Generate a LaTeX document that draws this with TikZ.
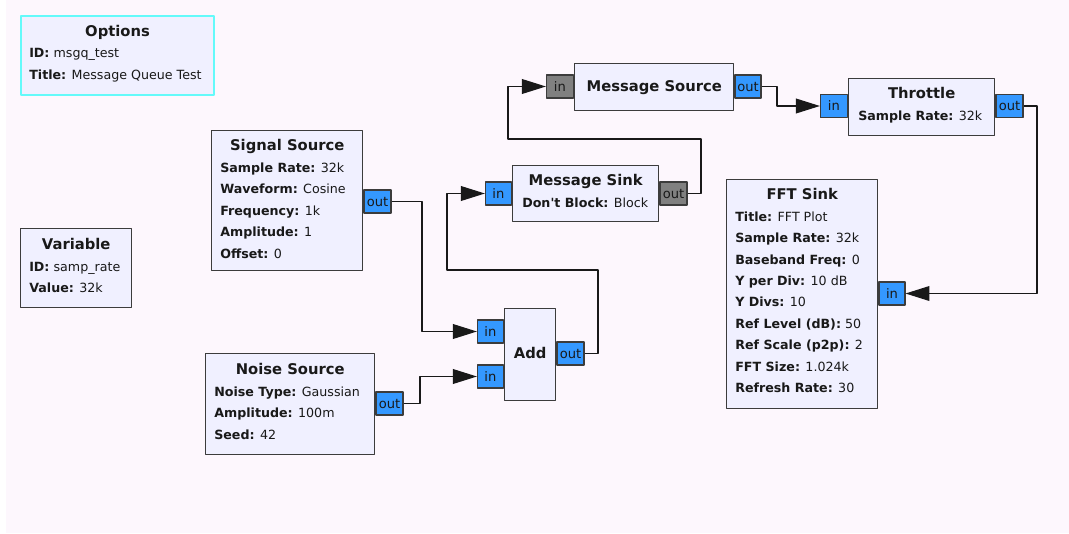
\documentclass[tikz,border=0pt]{standalone}
\usepackage{fontspec}
\setmainfont{DejaVu Sans}
\usetikzlibrary{arrows.meta}
\definecolor{canvas}{RGB}{253,247,253}
\definecolor{blkfill}{RGB}{240,240,255}
\definecolor{edge}{RGB}{60,60,60}
\definecolor{ink}{RGB}{25,25,25}
\definecolor{optcyan}{RGB}{100,250,250}
\definecolor{portblue}{RGB}{52,152,255}
\definecolor{msggray}{RGB}{128,128,128}
\begin{document}
\begin{tikzpicture}[x=0.025cm, y=-0.025cm, line join=round,
    >={Triangle[length=17pt, width=10.5pt]},
    blk/.style={draw=edge, fill=blkfill, line width=1pt, inner sep=0pt, anchor=north west},
    ttl/.style={font=\fontsize{10.5}{12}\selectfont\bfseries, text=ink, inner sep=0pt, anchor=mid},
    fld/.style={font=\fontsize{9}{11}\selectfont, text=ink, inner sep=0pt, anchor=mid west},
    port/.style={draw=edge, fill=portblue, line width=0.8pt, inner sep=0pt,
      minimum width=27*\pxu, minimum height=23*\pxu, font=\fontsize{9.3}{10}\selectfont, text=ink},
    msgport/.style={port, fill=msggray},
    wire/.style={draw=ink, line width=0.8pt}]
  \def\pxu{0.025cm}
  \useasboundingbox (0,0) rectangle (1069,533);
  \fill[canvas] (6,0) rectangle (1069,533);

  % options and variable
  \node[blk, draw=optcyan, line width=1.5pt, minimum width=193*\pxu, minimum height=79*\pxu] (opt) at (20,15) {};
  \node[ttl] (opt-t) at ([yshift=-17.5*\pxu]opt.north) {Options};
  \foreach \k/\v [count=\i] in {ID/msgq\_test, Title/Message Queue Test}
    \node[fld] (opt-f\i) at ([xshift=9*\pxu, yshift={-(17.5+21.5*\i)*\pxu}]opt.north west) {\textbf{\k:} \v};

  \node[blk, minimum width=111*\pxu, minimum height=79*\pxu] (var) at (20,228) {};
  \node[ttl] (var-t) at ([yshift=-18*\pxu]var.north) {Variable};
  \foreach \k/\v [count=\i] in {ID/samp\_rate, Value/32k}
    \node[fld] (var-f\i) at ([xshift=9*\pxu, yshift={-(18+21.5*\i)*\pxu}]var.north west) {\textbf{\k:} \v};

  % sources
  \node[blk, minimum width=151*\pxu, minimum height=140*\pxu] (sig) at (211,130) {};
  \node[ttl] (sig-t) at ([yshift=-17*\pxu]sig.north) {Signal Source};
  \foreach \k/\v [count=\i] in {Sample Rate/32k, Waveform/Cosine, Frequency/1k, Amplitude/1, Offset/0}
    \node[fld] (sig-f\i) at ([xshift=9*\pxu, yshift={-(17+21.5*\i)*\pxu}]sig.north west) {\textbf{\k:} \v};
  \node[port, anchor=west] (sig-out) at (sig.east |- 0,201.5) {out};

  \node[blk, minimum width=169*\pxu, minimum height=101*\pxu] (noise) at (205,353) {};
  \node[ttl] (noise-t) at ([yshift=-17.5*\pxu]noise.north) {Noise Source};
  \foreach \k/\v [count=\i] in {Noise Type/Gaussian, Amplitude/100m, Seed/42}
    \node[fld] (noise-f\i) at ([xshift=9*\pxu, yshift={-(18+21.5*\i)*\pxu}]noise.north west) {\textbf{\k:} \v};
  \node[port, anchor=west] (noise-out) at (noise.east |- 0,403.5) {out};

  % add
  \node[blk, minimum width=51*\pxu, minimum height=92*\pxu] (add) at (504,308) {};
  \node[ttl] (add-t) at (add.center) {Add};
  \node[port, anchor=east, minimum width=26*\pxu] (add-in1) at (add.west |- 0,331.5) {in};
  \node[port, anchor=east, minimum width=26*\pxu] (add-in2) at (add.west |- 0,376.5) {in};
  \node[port, anchor=west] (add-out) at (add.east |- 0,353.5) {out};

  % message blocks
  \node[blk, minimum width=146*\pxu, minimum height=56*\pxu] (msink) at (512,165) {};
  \node[ttl] (msink-t) at ([yshift=-17*\pxu]msink.north) {Message Sink};
  \node[fld] (msink-f1) at ([xshift=10*\pxu, yshift=-38.5*\pxu]msink.north west) {\textbf{Don\textquotesingle t Block:} Block};
  \node[port, anchor=east, minimum width=26*\pxu] (msink-in) at (msink.west |- 0,193.5) {in};
  \node[msgport, anchor=west] (msink-out) at (msink.east |- 0,193.5) {out};

  \node[blk, minimum width=159*\pxu, minimum height=47*\pxu] (msrc) at (574,63) {};
  \node[ttl] (msrc-t) at (msrc.center) {Message Source};
  \node[msgport, anchor=east] (msrc-in) at (msrc.west |- 0,86.5) {in};
  \node[port, anchor=west, minimum width=26*\pxu] (msrc-out) at (msrc.east |- 0,86.5) {out};

  % throttle and fft sink
  \node[blk, minimum width=146*\pxu, minimum height=57*\pxu] (thr) at (848,78) {};
  \node[ttl] (thr-t) at ([yshift=-16.5*\pxu]thr.north) {Throttle};
  \node[fld] (thr-f1) at ([xshift=10*\pxu, yshift=-39*\pxu]thr.north west) {\textbf{Sample Rate:} 32k};
  \node[port, anchor=east] (thr-in) at (thr.west |- 0,106) {in};
  \node[port, anchor=west] (thr-out) at (thr.east |- 0,106) {out};

  \node[blk, minimum width=151*\pxu, minimum height=229*\pxu] (fft) at (726,179) {};
  \node[ttl] (fft-t) at ([yshift=-17*\pxu]fft.north) {FFT Sink};
  \foreach \k/\v [count=\i] in {Title/FFT Plot, Sample Rate/32k, Baseband Freq/0, Y per Div/10 dB, Y Divs/10,
      Ref Level (dB)/50, Ref Scale (p2p)/2, FFT Size/1.024k, Refresh Rate/30}
    \node[fld] (fft-f\i) at ([xshift=9*\pxu, yshift={-(17+21.4*\i)*\pxu}]fft.north west) {\textbf{\k:} \v};
  \node[port, anchor=west, minimum width=26*\pxu] (fft-in) at (fft.east |- 0,293.5) {in};

  % connections
  \draw[wire, ->] (sig-out) -- (422,201.5) |- (add-in1);
  \draw[wire, ->] (noise-out) -- (420,403.5) |- (add-in2);
  \draw[wire, ->] (add-out) -- (598,353.5) |- (447,270) |- (msink-in);
  \draw[wire, ->] (msink-out) -- (701,193.5) |- (508,139) |- (msrc-in);
  \draw[wire, ->] (msrc-out) -- (777,86.5) |- (thr-in);
  \draw[wire, ->] (thr-out) -- (1037,106) |- (fft-in);
\end{tikzpicture}
\end{document}
